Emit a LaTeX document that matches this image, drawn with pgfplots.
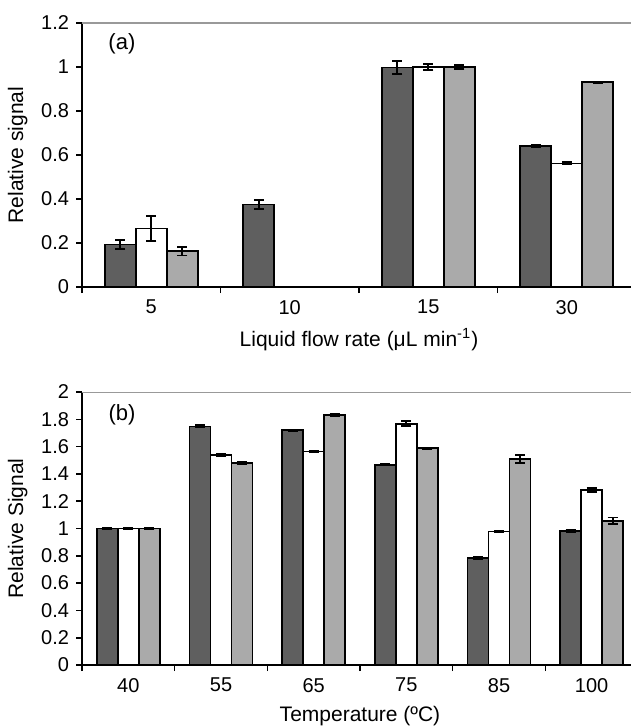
\documentclass[border=0pt]{standalone}
\usepackage{fontspec}
\setmainfont{Liberation Sans}
\usepackage{pgfplots}
\pgfplotsset{compat=1.18}
\definecolor{darkbar}{RGB}{95,95,95}
\definecolor{lightbar}{RGB}{170,170,170}

\pgfplotsset{
  panel/.style={
    scale only axis, ybar=0pt,
    axis x line*=bottom, axis y line*=left,
    axis line style={black, line width=0.8pt, -},
    tick style={black, line width=0.8pt},
    tick align=outside, major tick length=3pt,
    x tick label as interval,
    label style={font=\fontsize{10.5}{12}\selectfont},
    tick label style={font=\fontsize{10}{12}\selectfont},
    /pgf/number format/assume math mode=true,
    ymin=0, enlarge y limits=false,
  },
  eb/.style={error bars/.cd, y dir=both, y explicit,
    error bar style={line width=0.9pt, black},
    error mark options={rotate=90, mark size=2.5pt, line width=0.9pt, black}},
  barA/.style={fill=darkbar, draw=black, line width=0.8pt, eb},
  barB/.style={fill=white, draw=black, line width=0.8pt, eb},
  barC/.style={fill=lightbar, draw=black, line width=0.8pt, eb},
}

\begin{document}
\begin{tikzpicture}
% panel (a): liquid flow rate
\begin{axis}[panel, at={(41pt,-143.5pt)}, anchor=south west,
  width=277pt, height=132pt, bar width=15.5pt,
  xmin=-0.5, xmax=3.5, ymax=1.2,
  xtick={-0.5,0.5,1.5,2.5,3.5}, xticklabels={5,10,15,30},
  ytick={0,0.2,...,1.2},
  xlabel={Liquid flow rate (μL min\textsuperscript{-1})},
  ylabel={Relative signal}]
  \addplot[barA] coordinates {(0,0.194) +- (0,0.02) (1,0.375) +- (0,0.022) (2,0.998) +- (0,0.03) (3,0.641) +- (0,0.003)};
  \addplot[barB] coordinates {(0,0.266) +- (0,0.058) (2,1.0) +- (0,0.015) (3,0.562) +- (0,0.005)};
  \addplot[barC] coordinates {(0,0.163) +- (0,0.02) (2,1.0) +- (0,0.01) (3,0.931) +- (0,0.003)};
  \draw[gray!80, line width=0.8pt] (rel axis cs:0,1) -- (rel axis cs:1,1);
  \node[anchor=west, font=\fontsize{11}{12}\selectfont] at (rel axis cs:0.035,0.92) {(a)};
\end{axis}
% panel (b): temperature
\begin{axis}[panel, at={(41pt,-332.5pt)}, anchor=south west,
  width=278pt, height=136.5pt, bar width=10.5pt,
  xmin=-0.5, xmax=5.5, ymax=2,
  xtick={-0.5,0.5,1.5,2.5,3.5,4.5,5.5}, xticklabels={40,55,65,75,85,100},
  ytick={0,0.2,...,2.01},
  xlabel={Temperature (ºC)},
  ylabel={Relative Signal}]
  \addplot[barA] coordinates {(0,1.0) +- (0,0.008) (1,1.748) +- (0,0.008) (2,1.72) +- (0,0.006) (3,1.466) +- (0,0.005) (4,0.782) +- (0,0.008) (5,0.983) +- (0,0.01)};
  \addplot[barB] coordinates {(0,1.0) +- (0,0.006) (1,1.539) +- (0,0.01) (2,1.564) +- (0,0.006) (3,1.767) +- (0,0.018) (4,0.978) +- (0,0.006) (5,1.282) +- (0,0.015)};
  \addplot[barC] coordinates {(0,1.0) +- (0,0.006) (1,1.48) +- (0,0.006) (2,1.833) +- (0,0.008) (3,1.588) +- (0,0.006) (4,1.507) +- (0,0.03) (5,1.056) +- (0,0.025)};
  \draw[gray!80, line width=0.8pt] (rel axis cs:0,1) -- (rel axis cs:1,1);
  \node[anchor=west, font=\fontsize{11}{12}\selectfont] at (rel axis cs:0.035,0.915) {(b)};
\end{axis}
\pgfresetboundingbox
\path (0,0) rectangle (315pt,-363pt);
\end{tikzpicture}
\end{document}
